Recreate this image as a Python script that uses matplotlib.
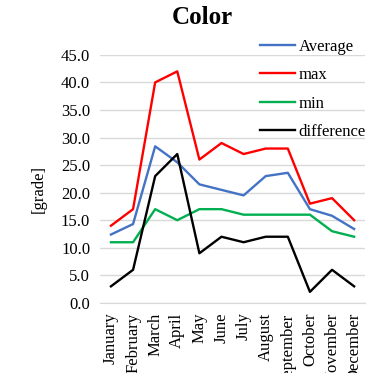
import matplotlib.pyplot as plt

months = ["January", "February", "March", "April", "May", "June", "July",
          "August", "September", "October", "November", "December"]
average = [12.4, 14.3, 28.4, 25.5, 21.5, 20.5, 19.5, 23.0, 23.6, 17.0, 15.8, 13.4]
maxv = [14, 17, 40, 42, 26, 29, 27, 28, 28, 18, 19, 15]
minv = [11, 11, 17, 15, 17, 17, 16, 16, 16, 16, 13, 12]
diff = [3, 6, 23, 27, 9, 12, 11, 12, 12, 2, 6, 3]

plt.rcParams['font.family'] = ['Liberation Serif', 'DejaVu Serif']

fig = plt.figure(figsize=(3.70, 3.73), dpi=100)
ax = fig.add_axes([0.27, 0.188, 0.717, 0.665])

x = range(len(months))
ax.plot(x, average, color='#4472C4', lw=1.7, label='Average')
ax.plot(x, maxv, color='#FF0000', lw=1.7, label='max')
ax.plot(x, minv, color='#00B050', lw=1.7, label='min')
ax.plot(x, diff, color='black', lw=1.7, label='difference')

ax.set_ylim(0, 45)
ax.set_xlim(-0.5, 11.5)
ax.set_yticks(range(0, 46, 5))
ax.set_yticklabels([f"{v:.1f}" for v in range(0, 46, 5)], fontsize=12)
ax.set_xticks(list(x))
ax.set_xticklabels(months, rotation=90, fontsize=12)
ax.tick_params(length=0, pad=7)
ax.grid(axis='y', color='#D9D9D9', lw=1)
ax.set_axisbelow(True)
for s in ['top', 'right', 'left']:
    ax.spines[s].set_visible(False)
ax.spines['bottom'].set_color('#D9D9D9')

ax.set_ylabel('[grade]', fontsize=12)
ax.yaxis.set_label_coords(-0.20, 0.46)
fig.text(0.546, 0.985, 'Color', fontsize=18, fontweight='bold',
         ha='center', va='top')

ax.legend(loc='upper right', bbox_to_anchor=(1.06, 1.125), frameon=False,
          fontsize=12, handlelength=2.1, labelspacing=0.75, handletextpad=0.25)

fig.savefig('out.png', dpi=100)
